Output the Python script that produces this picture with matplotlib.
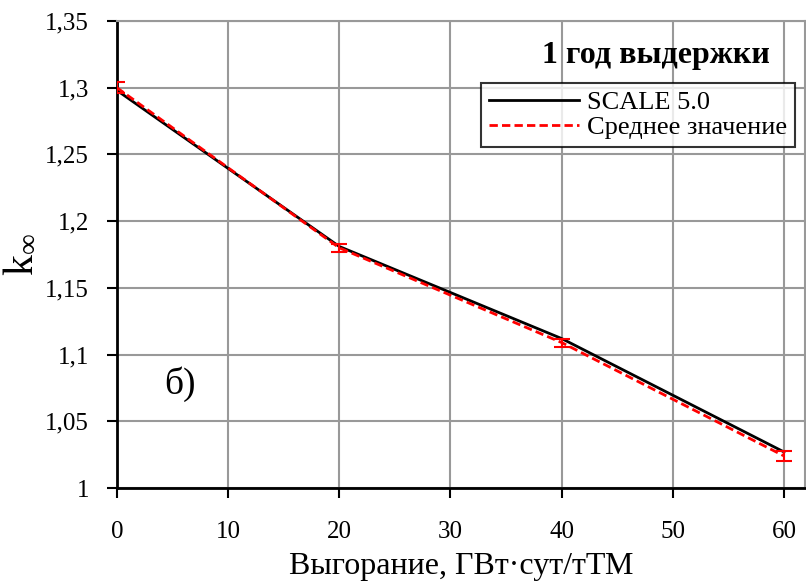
import numpy as np
import matplotlib.pyplot as plt

# data
burnup = [0, 20, 40, 60]
k_scale = [1.298, 1.181, 1.112, 1.027]
k_mean = [1.300, 1.180, 1.109, 1.024]
k_err = [0.004, 0.003, 0.003, 0.004]

x_ticks = [0, 10, 20, 30, 40, 50, 60]
y_ticks = [1.0, 1.05, 1.1, 1.15, 1.2, 1.25, 1.3, 1.35]
y_tick_labels = ["1", "1,05", "1,1", "1,15", "1,2", "1,25", "1,3", "1,35"]

plt.rcParams['font.family'] = ['Liberation Serif', 'DejaVu Serif']
plt.rcParams['mathtext.fontset'] = 'custom'
plt.rcParams['mathtext.rm'] = 'Liberation Serif'
plt.rcParams['mathtext.it'] = 'Liberation Serif'

fig = plt.figure(figsize=(8.06, 5.82), dpi=100)
ax = fig.add_axes([0.145, 0.1615, 0.854, 0.8025])

ax.plot(burnup, k_scale, color='black', lw=2, label='SCALE 5.0', zorder=3)
ax.plot(burnup, k_mean, color='red', lw=2, ls=(0, (3, 1.5)), label='Среднее значение', zorder=4)
ax.errorbar(burnup, k_mean, yerr=k_err, fmt='none', ecolor='red', elinewidth=1.5,
            capsize=6, capthick=1.5, zorder=5)

ax.set_xlim(0, 61.9)
ax.set_ylim(1.0, 1.35)
ax.set_xticks(x_ticks)
ax.set_yticks(y_ticks)
ax.set_yticklabels(y_tick_labels)
ax.tick_params(axis='both', direction='out', length=7, width=1.5, labelsize=18, color='black')
ax.tick_params(axis='x', pad=17)
ax.tick_params(axis='y', pad=13)

ax.grid(True, color='#999999', lw=1.5, zorder=0)
ax.set_axisbelow(True)
for side in ['left', 'bottom']:
    ax.spines[side].set_linewidth(2)
    ax.spines[side].set_color('black')
for side in ['top', 'right']:
    ax.spines[side].set_linewidth(1.5)
    ax.spines[side].set_color('#999999')

ax.set_xlabel('Выгорание, ГВт·сут/тТМ', fontsize=23, labelpad=6)
ax.set_ylabel('k$_{\\infty}$', fontsize=30, labelpad=4)

ax.text(0.949, 0.927, '1 год выдержки', transform=ax.transAxes, fontsize=23,
        fontweight='bold', ha='right', va='center')
ax.text(5.7, 1.078, 'б)', fontsize=27, ha='center', va='center')

leg = ax.legend(loc='upper right', bbox_to_anchor=(0.985, 0.867), fontsize=19,
                frameon=True, fancybox=False, borderpad=0.3, handlelength=3.4,
                handletextpad=0.3, labelspacing=0.05, borderaxespad=0)
leg.get_frame().set_edgecolor('black')
leg.get_frame().set_linewidth(1.5)

fig.savefig('out.png', dpi=100)
